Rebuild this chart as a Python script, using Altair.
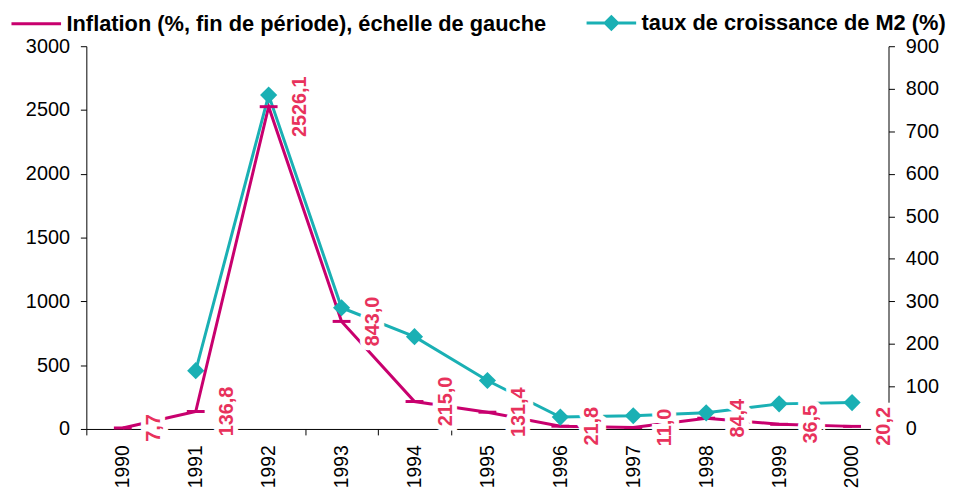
import altair as alt
import pandas as pd

years = ["1990", "1991", "1992", "1993", "1994", "1995", "1996", "1997", "1998", "1999", "2000"]
inflation = [7.7, 136.8, 2526.1, 843.0, 215.0, 131.4, 21.8, 11.0, 84.4, 36.5, 20.2]
m2_years = ["1991", "1992", "1993", "1994", "1995", "1996", "1997", "1998", "1999", "2000"]
m2_growth = [137, 785, 285, 217, 114, 28, 31, 38, 59, 62]
left_ticks = [0, 500, 1000, 1500, 2000, 2500, 3000]
right_ticks = [0, 100, 200, 300, 400, 500, 600, 700, 800, 900]
series_names = ["Inflation (%, fin de période), échelle de gauche", "taux de croissance de M2 (%)"]
series_colors = ["#C8006E", "#1AB0B4"]
legend_paths = ["M-1,0L1,0", "M-1,0L1,0M0,-0.25L0.25,0L0,0.25L-0.25,0Z"]
label_color = "#E8325C"

FONT = "Liberation Sans, Arial, sans-serif"

inf_df = pd.DataFrame({
    "year": years,
    "value": inflation,
    "label": [f"{v:.1f}".replace(".", ",") for v in inflation],
})
m2_df = pd.DataFrame({"year": m2_years, "value": m2_growth})
legend_df = pd.DataFrame({"series": series_names})

x_enc = alt.X(
    "year:O", sort=years,
    scale=alt.Scale(type="band", paddingInner=0, paddingOuter=0),
    axis=alt.Axis(title=None, labelAngle=270, tickBand="extent", labelFontSize=19.5,
                  labelPadding=10, tickSize=6, labelFont=FONT, labelColor="black",
                  domainColor="black", tickColor="black"),
)

left_scale = alt.Scale(domain=[0, 3000], nice=False, zero=True)
right_scale = alt.Scale(domain=[0, 900], nice=False, zero=True)

y_left = alt.Y("value:Q", scale=left_scale,
               axis=alt.Axis(title=None, orient="left", values=left_ticks, format="d", labelFontSize=20,
                             labelFont=FONT, labelColor="black", tickSize=6, labelPadding=11,
                             domainColor="black", tickColor="black"))
y_left_na = alt.Y("value:Q", scale=left_scale, axis=None)
y_right = alt.Y("value:Q", scale=right_scale,
                axis=alt.Axis(title=None, orient="right", values=right_ticks, format="d", labelFontSize=20,
                              labelFont=FONT, labelColor="black", tickSize=6, labelPadding=11,
                              domainColor="black", tickColor="black"))
y_right_na = alt.Y("value:Q", scale=right_scale, axis=None)

inf_line = alt.Chart(inf_df).mark_line(color=series_colors[0], strokeWidth=3).encode(x=x_enc, y=y_left)
m2_line = alt.Chart(m2_df).mark_line(color=series_colors[1], strokeWidth=3).encode(x=x_enc, y=y_right)
inf_pts = alt.Chart(inf_df).mark_point(shape="M-1,0L1,0", size=324, strokeWidth=3, filled=False,
                                       color=series_colors[0], opacity=1).encode(x=x_enc, y=y_left_na)
m2_pts = alt.Chart(m2_df).mark_point(shape="diamond", size=300, filled=True,
                                     color=series_colors[1], opacity=1).encode(x=x_enc, y=y_right_na)
halo = alt.Chart(inf_df).mark_text(angle=270, dy=32, align="center", baseline="middle", fontSize=20,
                                   fontWeight="bold", font=FONT, fill="white", stroke="white",
                                   strokeWidth=10).encode(x=x_enc, y=y_left_na, text="label:N")
labels = alt.Chart(inf_df).mark_text(angle=270, dy=32, align="center", baseline="middle", fontSize=20,
                                     fontWeight="bold", font=FONT, color=label_color).encode(
    x=x_enc, y=y_left_na, text="label:N")

leg = alt.Legend(title=None, orient="none", legendX=-77, legendY=-50, direction="horizontal",
                 labelFontSize=22, labelFontWeight="bold", labelFont=FONT, labelColor="black",
                 symbolSize=2500, symbolStrokeWidth=3, labelOffset=4, columnPadding=33,
                 symbolOpacity=1, padding=0, labelLimit=0)
legend_layer = alt.Chart(legend_df).mark_point(filled=True).encode(
    fill=alt.Fill("series:N", scale=alt.Scale(domain=series_names, range=series_colors), legend=leg),
    stroke=alt.Stroke("series:N", scale=alt.Scale(domain=series_names, range=series_colors), legend=leg),
    shape=alt.Shape("series:N", scale=alt.Scale(domain=series_names, range=legend_paths), legend=leg),
).transform_filter(alt.datum.series == "__none__")

chart = alt.layer(inf_line, m2_line, inf_pts, m2_pts, halo, labels, legend_layer).resolve_scale(
    y="independent"
).properties(
    width=809, height=386,
    padding={"left": 79, "top": 36.5, "right": 60, "bottom": 57},
    autosize=alt.AutoSizeParams(type="none"),
).configure_view(stroke=None).configure_axis(grid=False)

chart.save("out.html", embed_options={"renderer": "svg", "actions": False})
